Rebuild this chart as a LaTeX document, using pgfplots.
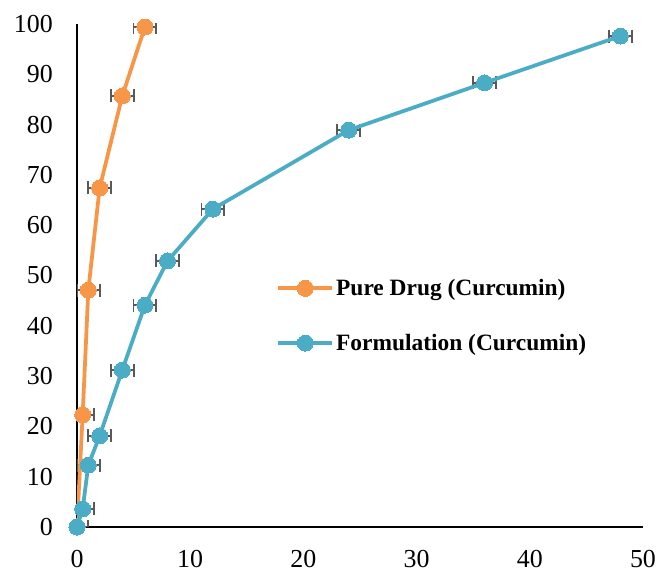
\documentclass[border=0pt]{standalone}
\usepackage{fontspec}
\setmainfont{Liberation Serif}
\usepackage{pgfplots}
\pgfplotsset{compat=1.18}

\definecolor{pureorange}{HTML}{F79646}
\definecolor{formblue}{HTML}{4BACC6}
\definecolor{errgray}{HTML}{595959}

\begin{document}
\begin{tikzpicture}
\begin{axis}[
  scale only axis,
  width=566bp, height=503bp,
  xmin=0, xmax=50, ymin=0, ymax=100,
  xtick={0,10,...,50},
  ytick={0,10,...,100},
  axis x line=bottom, axis y line=left,
  axis line style={black, line width=1.6bp, -},
  major tick length=0pt,
  /pgf/number format/assume math mode=true,
  tick label style={font=\fontsize{26}{30}\selectfont, inner sep=0pt},
  xticklabel style={anchor=north, yshift=-23bp},
  yticklabel style={anchor=east, xshift=-24bp},
  legend style={draw=none, fill=none, at={(0.352,0.42)}, anchor=west,
    font=\fontsize{23.5}{28}\selectfont\bfseries,
    row sep=33bp, inner sep=0pt, nodes={inner sep=2bp}},
  legend cell align=left,
  legend image code/.code={
    \draw[mark repeat=2, mark phase=2, #1]
      plot coordinates {(0bp,0bp) (27bp,0bp) (54bp,0bp)};
  },
  errbar/.style={forget plot, only marks, mark=none,
    error bars/x dir=both, error bars/x fixed=1,
    error bars/error bar style={errgray, line width=1.8bp},
    error bars/error mark options={errgray, line width=1.8bp, mark size=6.5bp, rotate=90}},
]
% horizontal error bars first, so that the markers sit on top of them
\addplot[errbar] coordinates {(0,0) (0.5,22.3) (1,47.1) (2,67.4) (4,85.7) (6,99.4)};
\addplot[errbar] coordinates {(0,0) (0.5,3.6) (1,12.3) (2,18.1) (4,31.2) (6,44.1)
    (8,52.9) (12,63.2) (24,78.9) (36,88.3) (48,97.6)};

\addplot[color=pureorange, line width=3.75bp, mark=*, mark size=8bp,
  mark options={fill=pureorange, draw=pureorange, line width=0pt}]
  coordinates {(0,0) (0.5,22.3) (1,47.1) (2,67.4) (4,85.7) (6,99.4)};
\addlegendentry{Pure Drug (Curcumin)}
\addplot[color=formblue, line width=3.75bp, mark=*, mark size=8bp,
  mark options={fill=formblue, draw=formblue, line width=0pt}]
  coordinates {(0,0) (0.5,3.6) (1,12.3) (2,18.1) (4,31.2) (6,44.1)
    (8,52.9) (12,63.2) (24,78.9) (36,88.3) (48,97.6)};
\addlegendentry{Formulation (Curcumin)}
\end{axis}
\pgfresetboundingbox
\path[use as bounding box] (-77bp,-45bp) rectangle (583bp,527bp);
\end{tikzpicture}
\end{document}
